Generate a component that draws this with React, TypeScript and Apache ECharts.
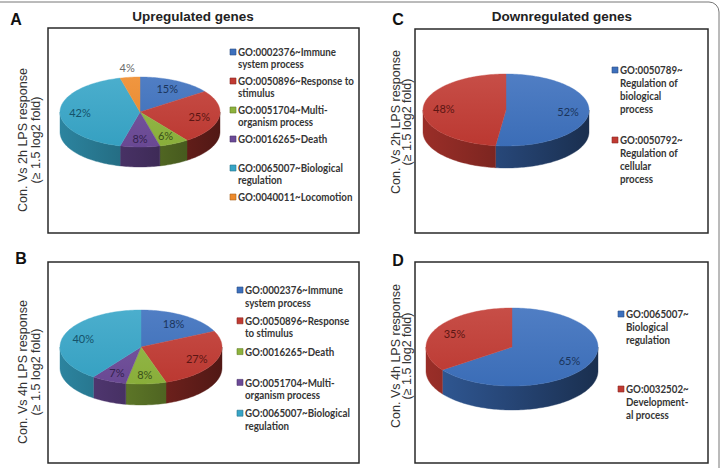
import React, { useEffect, useRef } from "react";
import * as echarts from "echarts";

// GO term shares (%) for each comparison
const up2hTerms = [
  "GO:0002376~Immune\nsystem process",
  "GO:0050896~Response to\nstimulus",
  "GO:0051704~Multi-\norganism process",
  "GO:0016265~Death",
  "GO:0065007~Biological\nregulation",
  "GO:0040011~Locomotion",
];
const up2hShares = [15, 25, 6, 8, 42, 4];

const up4hTerms = [
  "GO:0002376~Immune\nsystem process",
  "GO:0050896~Response\nto stimulus",
  "GO:0016265~Death",
  "GO:0051704~Multi-\norganism process",
  "GO:0065007~Biological\nregulation",
];
const up4hShares = [18, 27, 8, 7, 40];

const down2hTerms = [
  "GO:0050789~\nRegulation of\nbiological\nprocess",
  "GO:0050792~\nRegulation of\ncellular\nprocess",
];
const down2hShares = [52, 48];

const down4hTerms = [
  "GO:0065007~\nBiological\nregulation",
  "GO:0032502~\nDevelopment-\nal process",
];
const down4hShares = [65, 35];

const panelLetters = ["A", "B", "C", "D"];
const columnTitles = ["Upregulated genes", "Downregulated genes"];
const rowTitles = ["Con. Vs 2h LPS response", "Con. Vs 4h LPS response"];
const foldNote = "(\u2265 1.5 log2 fold)";

// slice colours, in drawing order
const PALETTE = ["#3D70BD", "#C13A32", "#8DB33C", "#6C4A98", "#37A5C7", "#EE8A2B"];
const LABEL_INK = ["#1B355C", "#5C1613", "#3A5119", "#33214D", "#15526A", "#6A6A6A"];

type Geo = { cx: number; cy: number; rx: number; ry: number; depth: number };

function shade(hex: string, f: number): string {
  const n = parseInt(hex.slice(1), 16);
  let r = (n >> 16) & 255, g = (n >> 8) & 255, b = n & 255;
  if (f <= 1) {
    r *= f; g *= f; b *= f;
  } else {
    const t = f - 1;
    r += (255 - r) * t; g += (255 - g) * t; b += (255 - b) * t;
  }
  const h = (v: number) => Math.round(Math.max(0, Math.min(255, v))).toString(16).padStart(2, "0");
  return "#" + h(r) + h(g) + h(b);
}

// Tilted 3D pie: each data item draws its visible rim wall, its top face and its label.
function pieRenderer(geo: Geo) {
  return (params: any, api: any) => {
    const share = api.value(0) as number;
    const before = api.value(1) as number;
    const idx = api.value(2) as number;
    const total = api.value(3) as number;
    const TAU = Math.PI * 2;
    const a0 = (before / total) * TAU;
    const a1 = ((before + share) / total) * TAU;
    const { cx, cy, rx, ry, depth } = geo;
    const at = (a: number, f = 1, dy = 0) => [cx + rx * f * Math.sin(a), cy - ry * f * Math.cos(a) + dy];
    const arc = (s: number, e: number, dy: number) => {
      const n = Math.max(2, Math.ceil((e - s) / (Math.PI / 120)));
      const pts: number[][] = [];
      for (let k = 0; k <= n; k++) pts.push(at(s + ((e - s) * k) / n, 1, dy));
      return pts;
    };
    const base = PALETTE[idx];
    const children: any[] = [];

    const s0 = Math.max(a0, Math.PI / 2);
    const s1 = Math.min(a1, Math.PI * 1.5);
    if (s1 > s0) {
      const pts = arc(s0, s1, 0).concat(arc(s0, s1, depth).reverse());
      const side = new echarts.graphic.LinearGradient(
        cx - rx, 0, cx + rx, 0,
        [
          { offset: 0, color: shade(base, 0.8) },
          { offset: 0.5, color: shade(base, 0.62) },
          { offset: 1, color: shade(base, 0.42) },
        ],
        true
      );
      children.push({
        type: "polygon",
        z2: 1,
        shape: { points: pts },
        style: { fill: side, stroke: side, lineWidth: 0.4 },
      });
    }

    const top = new echarts.graphic.LinearGradient(
      0, cy - ry, 0, cy + ry,
      [
        { offset: 0, color: shade(base, 1.1) },
        { offset: 1, color: shade(base, 0.97) },
      ],
      true
    );
    children.push({
      type: "polygon",
      z2: 2,
      shape: { points: [[cx, cy]].concat(arc(a0, a1, 0)) },
      style: { fill: top, stroke: top, lineWidth: 0.4 },
    });

    const mid = (a0 + a1) / 2;
    const small = share < 5;
    const p = at(mid, small ? 1.28 : 0.75);
    children.push({
      type: "text",
      z2: 10,
      style: {
        text: share + "%",
        x: p[0],
        y: p[1],
        align: "center",
        verticalAlign: "middle",
        fill: small ? LABEL_INK[5] : LABEL_INK[idx],
        font: "11px Lato",
      },
    });
    return { type: "group", children };
  };
}

type Panel = {
  terms: string[];
  shares: number[];
  letter: string;
  box: [number, number, number, number];
  pie: Geo;
  legend: { x: number; y0: number; step: number; lineH: number };
  letterPos: [number, number];
  rowTitle: string;
  rowPos: [number, number];
  rowLineH: number;
};

const panels: Panel[] = [
  {
    terms: up2hTerms, shares: up2hShares, letter: panelLetters[0],
    box: [48, 28, 311, 205],
    pie: { cx: 140, cy: 112, rx: 80, ry: 35, depth: 20 },
    legend: { x: 230, y0: 52, step: 29, lineH: 12 },
    letterPos: [16, 19], rowTitle: rowTitles[0], rowPos: [29.5, 140], rowLineH: 13,
  },
  {
    terms: up4hTerms, shares: up4hShares, letter: panelLetters[1],
    box: [48, 262, 311, 201],
    pie: { cx: 141, cy: 347, rx: 81, ry: 37, depth: 21 },
    legend: { x: 237, y0: 290, step: 30.8, lineH: 12.5 },
    letterPos: [21, 258], rowTitle: rowTitles[1], rowPos: [29.5, 372], rowLineH: 13,
  },
  {
    terms: down2hTerms, shares: down2hShares, letter: panelLetters[2],
    box: [415, 29, 293, 204],
    pie: { cx: 506, cy: 110, rx: 83, ry: 36, depth: 22 },
    legend: { x: 612, y0: 70, step: 70, lineH: 13 },
    letterPos: [398, 19], rowTitle: rowTitles[0], rowPos: [401.5, 122], rowLineH: 11.5,
  },
  {
    terms: down4hTerms, shares: down4hShares, letter: panelLetters[3],
    box: [415, 262, 293, 201],
    pie: { cx: 512, cy: 347, rx: 86, ry: 39, depth: 24 },
    legend: { x: 618, y0: 314, step: 75, lineH: 13 },
    letterPos: [398, 260], rowTitle: rowTitles[1], rowPos: [401.5, 356], rowLineH: 11.5,
  },
];

function textEl(x: number, y: number, text: string, font: string, fill: string, extra: any = {}) {
  const { align, verticalAlign, lineHeight, ...rest } = extra;
  return {
    type: "text",
    x,
    y,
    ...rest,
    style: {
      text,
      x: 0,
      y: 0,
      font,
      fill,
      align: align || "center",
      textAlign: align || "center",
      verticalAlign: verticalAlign || "middle",
      textVerticalAlign: verticalAlign || "middle",
      lineHeight,
    },
  };
}

function buildOption() {
  const graphics: any[] = [];
  // outer frame
  graphics.push({
    type: "rect",
    shape: { x: -12, y: 2, width: 731, height: 490, r: 10 },
    style: { fill: "none", stroke: "#777", lineWidth: 1 },
  });
  graphics.push(textEl(193, 16, columnTitles[0], "bold 13.5px 'Liberation Sans', Arial", "#222"));
  graphics.push(textEl(562, 16, columnTitles[1], "bold 13.5px 'Liberation Sans', Arial", "#222"));

  const series: any[] = [];
  panels.forEach((p) => {
    const [bx, by, bw, bh] = p.box;
    graphics.push({
      type: "rect",
      shape: { x: bx, y: by, width: bw, height: bh },
      style: { fill: "none", stroke: "#2a2a2a", lineWidth: 1.5 },
    });
    graphics.push(textEl(p.letterPos[0], p.letterPos[1], p.letter, "bold 16px 'Liberation Sans', Arial", "#111"));
    graphics.push(
      textEl(p.rowPos[0], p.rowPos[1], p.rowTitle + "\n" + foldNote, "12.5px 'Liberation Sans', Arial", "#333", {
        rotation: Math.PI / 2,
        lineHeight: p.rowLineH,
      })
    );
    p.terms.forEach((term, i) => {
      const yc = p.legend.y0 + i * p.legend.step;
      graphics.push({
        type: "rect",
        shape: { x: p.legend.x, y: yc - 3, width: 6, height: 6 },
        style: { fill: PALETTE[i], stroke: shade(PALETTE[i], 0.7), lineWidth: 0.6 },
      });
      graphics.push(
        textEl(p.legend.x + 8, yc - p.legend.lineH / 2, term, "bold 10.5px Lato", "#353535", {
          align: "left",
          verticalAlign: "top",
          lineHeight: p.legend.lineH,
          scaleX: 0.93,
        })
      );
    });

    const total = p.shares.reduce((s, v) => s + v, 0);
    let run = 0;
    const data = p.shares.map((v, i) => {
      const item = [v, run, i, total];
      run += v;
      return item;
    });
    series.push({
      type: "custom",
      coordinateSystem: "none",
      silent: true,
      renderItem: pieRenderer(p.pie),
      data,
    });
  });

  return {
    animation: false,
    backgroundColor: "#ffffff",
    graphic: { elements: graphics },
    series,
  };
}

export default function App() {
  const ref = useRef<HTMLDivElement>(null);
  useEffect(() => {
    if (!ref.current) return;
    const chart = echarts.init(ref.current, undefined, { renderer: "svg" });
    chart.setOption(buildOption() as any);
    return () => chart.dispose();
  }, []);
  return (
    <div
      ref={ref}
      style={{ position: "fixed", left: 0, top: 0, width: 724, height: 468, background: "#fff" }}
    />
  );
}
